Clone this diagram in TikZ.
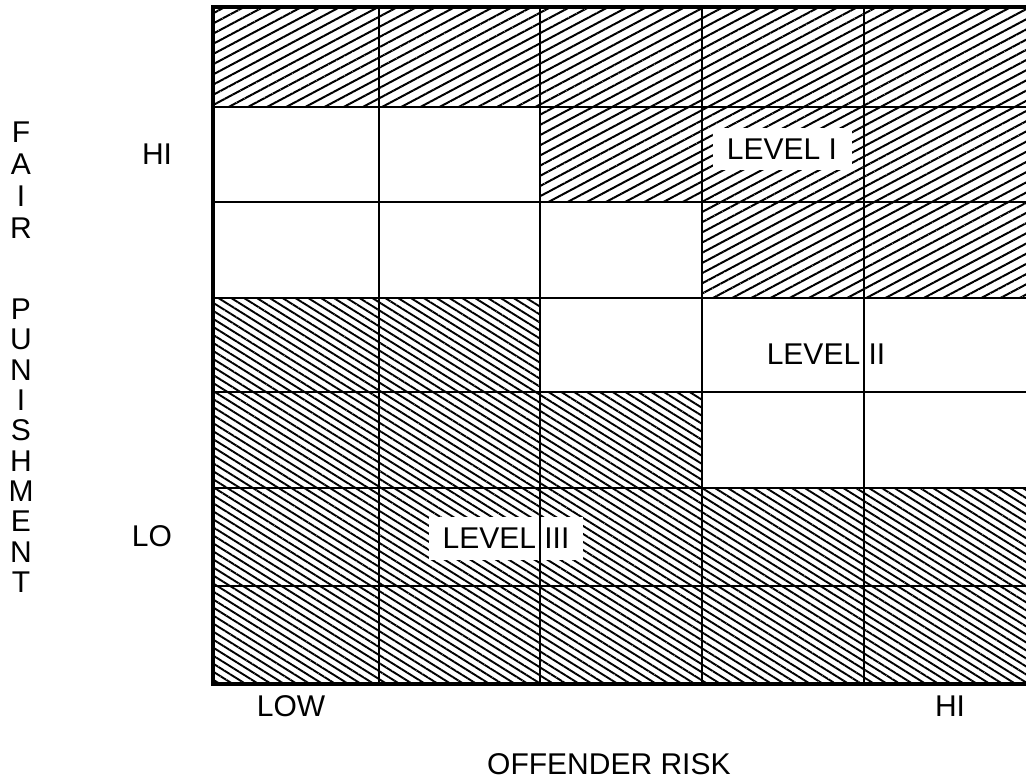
\documentclass[tikz,border=0pt]{standalone}
\usepackage{fontspec}
\setmainfont{Liberation Sans}
\usetikzlibrary{positioning,patterns.meta}

\begin{document}
\begin{tikzpicture}[
    x=1pt, y=-1pt,
    lbl/.style={
        font=\fontsize{30}{36}\selectfont,
        inner sep=0pt
    },
    levelbox/.style={
        lbl,
        fill=white
    },
    rh/.style={pattern={Lines[angle=28,distance=9pt,line width=2pt]}},
    fh/.style={pattern={Lines[angle=-32,distance=6.8pt,line width=1.9pt]}},
    wh/.style={fill=white},
    gridline/.style={line width=2.6pt}
]
    \useasboundingbox (0,0) rectangle (1026,779);

    % Cells (rows top to bottom)
    \foreach \row [count=\r from 0] in {{rh,rh,rh,rh,rh},{wh,wh,rh,rh,rh},{wh,wh,wh,rh,rh},
        {fh,fh,wh,wh,wh},{fh,fh,fh,wh,wh},{fh,fh,fh,fh,fh},{fh,fh,fh,fh,fh}} {
        \foreach \t [count=\c from 0] in \row {
            \pgfmathsetmacro\xa{{213,379,540,702,864,1026}[\c]}
            \pgfmathsetmacro\xb{{213,379,540,702,864,1030}[\c+1]}
            \pgfmathsetmacro\ya{{7,107,202,298,392,488,586,684}[\r]}
            \pgfmathsetmacro\yb{{7,107,202,298,392,488,586,684}[\r+1]}
            \path[\t] (\xa,\ya) rectangle (\xb,\yb);
        }
    }

    % Level labels
    \node[levelbox, minimum width=139pt, minimum height=42pt] (lvone) at (782,149) {LEVEL I};
    \node[lbl] (lvtwo) at (826,354) {LEVEL II};
    \node[levelbox, minimum width=154pt, minimum height=43pt] (lvthree) at (506,538) {LEVEL III};

    % Grid
    \foreach \xx in {379,540,702,864}
        \draw[gridline] (\xx,7) -- (\xx,684);
    \foreach \yy in {107,202,298,392,488,586}
        \draw[gridline] (213,\yy) -- (1030,\yy);
    \draw[line width=3.2pt] (1030,7) -- (213,7) -- (213,684) -- (1030,684);

    % Axis labels
    \node[lbl] (yhi) at (157,154) {HI};
    \node[lbl] (ylo) at (152,536) {LO};
    \node[lbl] (xlow) at (291,706) {LOW};
    \node[lbl] (xhi) at (950,706) {HI};
    \node[lbl, anchor=west] (xtitle) at (487,764) {OFFENDER RISK};
    \foreach \ch/\yy [count=\i] in {F/132,A/164,I/196,R/228,P/309,U/339,N/370,I/400,
        S/430,H/461,M/491,E/521,N/552,T/582}
        \node[lbl] (fp\i) at (21,\yy) {\ch};
\end{tikzpicture}
\end{document}
